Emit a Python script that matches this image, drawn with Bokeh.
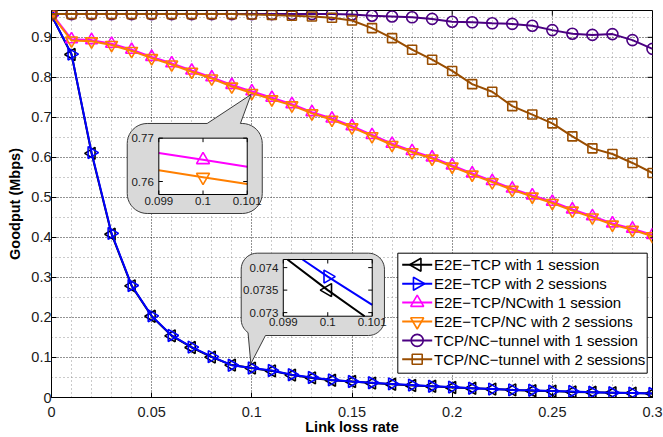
import math
from bokeh.plotting import figure
from bokeh.models import Range1d, FixedTicker
from bokeh.core.properties import value
from bokeh.embed import file_html
from bokeh.resources import INLINE

# ---------------- data ----------------
loss_rate = [0.00, 0.01, 0.02, 0.03, 0.04, 0.05, 0.06, 0.07, 0.08, 0.09,
             0.10, 0.11, 0.12, 0.13, 0.14, 0.15, 0.16, 0.17, 0.18, 0.19,
             0.20, 0.21, 0.22, 0.23, 0.24, 0.25, 0.26, 0.27, 0.28, 0.29, 0.30]

e2e_tcp_1 = [0.955, 0.857, 0.610, 0.408, 0.279, 0.203, 0.154, 0.125, 0.101, 0.081,
             0.0735, 0.0665, 0.056, 0.049, 0.043, 0.040, 0.036, 0.033, 0.030, 0.028,
             0.025, 0.023, 0.021, 0.019, 0.017, 0.016, 0.014, 0.013, 0.012, 0.011, 0.010]

e2e_tcp_2 = [0.955, 0.858, 0.612, 0.410, 0.280, 0.204, 0.155, 0.126, 0.102, 0.0805,
             0.0738, 0.0675, 0.057, 0.050, 0.044, 0.040, 0.037, 0.034, 0.031, 0.028,
             0.026, 0.023, 0.021, 0.019, 0.018, 0.016, 0.015, 0.013, 0.012, 0.011, 0.010]

e2e_nc_1 = [0.960, 0.895, 0.893, 0.884, 0.869, 0.851, 0.835, 0.817, 0.800, 0.781,
            0.765, 0.749, 0.733, 0.713, 0.697, 0.678, 0.656, 0.634, 0.616, 0.600,
            0.580, 0.560, 0.541, 0.522, 0.505, 0.489, 0.470, 0.453, 0.435, 0.422, 0.406]

e2e_nc_2 = [0.957, 0.892, 0.890, 0.881, 0.866, 0.848, 0.832, 0.814, 0.797, 0.777,
            0.761, 0.745, 0.730, 0.710, 0.694, 0.675, 0.653, 0.631, 0.613, 0.597,
            0.577, 0.557, 0.538, 0.519, 0.502, 0.486, 0.467, 0.450, 0.432, 0.419, 0.403]

tunnel_1 = [0.958, 0.958, 0.958, 0.958, 0.958, 0.958, 0.958, 0.958, 0.958, 0.958,
            0.958, 0.958, 0.958, 0.958, 0.958, 0.957, 0.954, 0.952, 0.950, 0.946,
            0.939, 0.9375, 0.935, 0.9335, 0.929, 0.918, 0.909, 0.906, 0.908, 0.893, 0.871]

tunnel_2 = [0.958, 0.958, 0.958, 0.958, 0.958, 0.958, 0.958, 0.958, 0.958, 0.958,
            0.957, 0.956, 0.954, 0.952, 0.949, 0.942, 0.923, 0.898, 0.869, 0.844,
            0.816, 0.783, 0.764, 0.728, 0.707, 0.685, 0.6525, 0.6225, 0.6085, 0.586, 0.561]

series_labels = ["E2E\u2212TCP with 1 session",
                 "E2E\u2212TCP with 2 sessions",
                 "E2E\u2212TCP/NCwith 1 session",
                 "E2E\u2212TCP/NC with 2 sessions",
                 "TCP/NC\u2212tunnel with 1 session",
                 "TCP/NC\u2212tunnel with 2 sessions"]

x_ticks = [0, 0.05, 0.1, 0.15, 0.2, 0.25, 0.3]
x_tick_labels = ["0", "0.05", "0.1", "0.15", "0.2", "0.25", "0.3"]
y_ticks = [0, 0.1, 0.2, 0.3, 0.4, 0.5, 0.6, 0.7, 0.8, 0.9]
y_tick_labels = ["0", "0.1", "0.2", "0.3", "0.4", "0.5", "0.6", "0.7", "0.8", "0.9"]
x_minor = [0.01, 0.02, 0.03, 0.04, 0.06, 0.07, 0.08, 0.09, 0.11, 0.12, 0.13, 0.14,
           0.16, 0.17, 0.18, 0.19, 0.21, 0.22, 0.23, 0.24, 0.26, 0.27, 0.28, 0.29]
y_minor = [0.05, 0.15, 0.25, 0.35, 0.45, 0.55, 0.65, 0.75, 0.85, 0.95]

inset1_x_ticks = [0.099, 0.1, 0.101]
inset1_x_labels = ["0.099", "0.1", "0.101"]
inset1_y_ticks = [0.76, 0.77]
inset1_y_labels = ["0.76", "0.77"]
inset2_x_ticks = [0.099, 0.1, 0.101]
inset2_x_labels = ["0.099", "0.1", "0.101"]
inset2_y_ticks = [0.073, 0.0735, 0.074]
inset2_y_labels = ["0.073", "0.0735", "0.074"]

# ---------------- styling ----------------
FONT = "Liberation Sans"
X0, X1 = 0.0, 0.3
Y0, Y1 = 0.0, 0.967
FW, FH = 601, 387
SX = FW / (X1 - X0)
SY = FH / (Y1 - Y0)


def fx(px):  # pixels from the frame's left edge -> data x
    return X0 + px / SX


def fy(py):  # pixels from the frame's bottom edge -> data y
    return Y0 + py / SY


colors = ["#000000", "#0000ff", "#ff00ff", "#ff7f00", "#4b0082", "#994d00"]
markers = ["triangle", "triangle", "triangle", "inverted_triangle", "circle", "square"]
angles = [math.pi / 2, -math.pi / 2, 0, 0, 0, 0]
sizes = [12, 12, 12, 12, 11, 9]
values = [e2e_tcp_1, e2e_tcp_2, e2e_nc_1, e2e_nc_2, tunnel_1, tunnel_2]

p = figure(frame_width=FW, frame_height=FH,
           x_range=Range1d(X0, X1), y_range=Range1d(Y0, Y1),
           output_backend="svg", toolbar_location=None,
           min_border_left=51, min_border_right=11, min_border_top=10, min_border_bottom=39,
           background_fill_color="white", border_fill_color="white")
p.outline_line_color = "black"
p.outline_line_alpha = 1.0
p.outline_line_width = 1

p.xaxis.ticker = FixedTicker(ticks=x_ticks, minor_ticks=x_minor)
p.yaxis.ticker = FixedTicker(ticks=y_ticks, minor_ticks=y_minor)
p.xaxis.major_label_overrides = dict(zip(x_ticks, x_tick_labels))
p.yaxis.major_label_overrides = dict(zip(y_ticks, y_tick_labels))
for ax in (p.xaxis[0], p.yaxis[0]):
    ax.major_tick_in = 5
    ax.major_tick_out = 0
    ax.minor_tick_in = 0
    ax.minor_tick_out = 0
    ax.axis_line_color = "black"
    ax.major_tick_line_color = "black"
    ax.major_label_text_font = FONT
    ax.major_label_text_font_size = "14.5px"
    ax.major_label_text_color = "#1a1a1a"
    ax.axis_label_text_font = FONT
    ax.axis_label_text_font_size = "14.5px"
    ax.axis_label_text_font_style = "bold"
    ax.axis_label_text_color = "black"
p.xaxis.axis_label = "Link loss rate"
p.yaxis.axis_label = "Goodput (Mbps)"
p.xaxis.major_label_standoff = 9
p.xaxis.axis_label_standoff = -1
p.yaxis.major_label_standoff = 0
p.yaxis.axis_label_standoff = 5

p.grid.grid_line_color = "black"
p.grid.grid_line_dash = "1 2"
p.grid.grid_line_alpha = 0.85
p.grid.minor_grid_line_color = "#8c8c8c"
p.grid.minor_grid_line_dash = "1 3"
p.grid.minor_grid_line_alpha = 0.9

# ticks on top and right frame edges (from the tick lists)
p.segment(x0=x_ticks, y0=[Y1] * len(x_ticks), x1=x_ticks, y1=[Y1 - 5 / SY] * len(x_ticks),
          line_color="black", line_width=1)
p.segment(x0=[X1] * len(y_ticks), y0=y_ticks, x1=[X1 - 5 / SX] * len(y_ticks), y1=y_ticks,
          line_color="black", line_width=1)

for ys, c, m, a, s in zip(values, colors, markers, angles, sizes):
    p.line(loss_rate, ys, line_color=c, line_width=2)
    p.scatter(loss_rate, ys, marker=m, angle=a, size=s, line_color=c,
              line_width=1.6, fill_color=None)


# ---------------- callout bubbles ----------------
def bubble(x0, x1, y0, y1, r, side, base_a, base_b, tip):
    rx, ry = r / SX, r / SY
    xs, ys = [], []

    def arc(cx, cy, a0, a1, n=10):
        for k in range(n + 1):
            t = math.radians(a0 + (a1 - a0) * k / n)
            xs.append(cx + rx * math.cos(t))
            ys.append(cy + ry * math.sin(t))

    arc(x0 + rx, y1 - ry, 180, 90)
    if side == "top":
        xs.extend([base_a, tip[0], base_b]); ys.extend([y1, tip[1], y1])
    arc(x1 - rx, y1 - ry, 90, 0)
    arc(x1 - rx, y0 + ry, 0, -90)
    if side == "bottom":
        xs.extend([base_b, tip[0]]); ys.extend([y0, tip[1]])
        arc(x0 + rx, y0 + ry, -125, -180)
    else:
        arc(x0 + rx, y0 + ry, -90, -180)
    return xs, ys


i10 = loss_rate.index(0.10)
b1x, b1y = bubble(0.0378, 0.1052, 0.4598, 0.6847, 20, "top", 0.0777, 0.0943,
                  (loss_rate[i10] - 0.0004, e2e_nc_2[i10] - 0.004))
b2x, b2y = bubble(0.0947, 0.1662, 0.1549, 0.3606, 16, "bottom", 0.0960, 0.1068,
                  (loss_rate[i10] - 0.0005, e2e_tcp_1[i10] + 0.011))
for bx, by in ((b1x, b1y), (b2x, b2y)):
    p.patch(bx, by, fill_color="#d9d9d9", line_color="#3a3a3a", line_width=1)


def clip_polyline(xs, ys, xmin, xmax, ymin, ymax):
    ox, oy = [], []
    for i in range(len(xs) - 1):
        xa, ya, xb, yb = xs[i], ys[i], xs[i + 1], ys[i + 1]
        dx, dy = xb - xa, yb - ya
        t0, t1 = 0.0, 1.0
        ok = True
        for pp, qq in ((-dx, xa - xmin), (dx, xmax - xa), (-dy, ya - ymin), (dy, ymax - ya)):
            if pp == 0:
                if qq < 0:
                    ok = False
                    break
            else:
                t = qq / pp
                if pp < 0:
                    if t > t1:
                        ok = False
                        break
                    t0 = max(t0, t)
                else:
                    if t < t0:
                        ok = False
                        break
                    t1 = min(t1, t)
        if ok and t0 < t1:
            ax_, ay_ = xa + t0 * dx, ya + t0 * dy
            bx_, by_ = xa + t1 * dx, ya + t1 * dy
            if ox and abs(ox[-1] - ax_) < 1e-12 and abs(oy[-1] - ay_) < 1e-12:
                ox.append(bx_); oy.append(by_)
            else:
                if ox:
                    ox.append(float("nan")); oy.append(float("nan"))
                ox += [ax_, bx_]; oy += [ay_, by_]
    return ox, oy


def inset(xsrc, ysrc, xtgt, ytgt, idxs, xt, xl, yt, yl):
    sub = p.subplot(x_source=Range1d(*xsrc), y_source=Range1d(*ysrc),
                    x_target=Range1d(*xtgt), y_target=Range1d(*ytgt))
    w_px = (xtgt[1] - xtgt[0]) * SX
    h_px = (ytgt[1] - ytgt[0]) * SY
    ux = (xsrc[1] - xsrc[0]) / w_px
    uy = (ysrc[1] - ysrc[0]) / h_px
    sub.quad(left=[xsrc[0]], right=[xsrc[1]], bottom=[ysrc[0]], top=[ysrc[1]],
             fill_color="white", line_color=None)
    for k in idxs:
        cx, cy = clip_polyline(loss_rate, values[k], xsrc[0], xsrc[1], ysrc[0], ysrc[1])
        sub.line(cx, cy, line_color=colors[k], line_width=2)
        px = [x for x, y in zip(loss_rate, values[k]) if xsrc[0] <= x <= xsrc[1] and ysrc[0] <= y <= ysrc[1]]
        py = [y for x, y in zip(loss_rate, values[k]) if xsrc[0] <= x <= xsrc[1] and ysrc[0] <= y <= ysrc[1]]
        sub.scatter(px, py, marker=markers[k], angle=angles[k], size=sizes[k] + 1,
                    line_color=colors[k], line_width=1.6, fill_color=None)
    n = len(xt)
    sub.segment(x0=xt, y0=[ysrc[0]] * n, x1=xt, y1=[ysrc[0] + 4 * uy] * n, line_color="black")
    sub.segment(x0=xt, y0=[ysrc[1]] * n, x1=xt, y1=[ysrc[1] - 4 * uy] * n, line_color="black")
    m = len(yt)
    sub.segment(x0=[xsrc[0]] * m, y0=yt, x1=[xsrc[0] + 4 * ux] * m, y1=yt, line_color="black")
    sub.segment(x0=[xsrc[1]] * m, y0=yt, x1=[xsrc[1] - 4 * ux] * m, y1=yt, line_color="black")
    sub.quad(left=[xsrc[0]], right=[xsrc[1]], bottom=[ysrc[0]], top=[ysrc[1]],
             fill_color=None, line_color="black", line_width=1)
    sub.text(x=xt, y=[ysrc[0]] * n, text=xl, text_align="center", text_baseline="top",
             y_offset=2, text_font=value(FONT), text_font_size="11.5px", text_color="#1a1a1a")
    sub.text(x=[xsrc[0]] * m, y=yt, text=yl, text_align="right", text_baseline="middle",
             x_offset=-5, text_font=value(FONT), text_font_size="11.5px", text_color="#1a1a1a")


inset((0.099, 0.101), (0.757, 0.770), (0.05357, 0.0977), (0.5072, 0.6480), [2, 3],
      inset1_x_ticks, inset1_x_labels, inset1_y_ticks, inset1_y_labels)
inset((0.099, 0.101), (0.07292, 0.07418), (0.1157, 0.1601), (0.2031, 0.3448), [0, 1],
      inset2_x_ticks, inset2_x_labels, inset2_y_ticks, inset2_y_labels)

# ---------------- legend (drawn as glyphs so the markers keep their rotation) ----------------
LG_L, LG_R, LG_B, LG_T = 346.3, 595.7, 24.3, 144.3   # box, px from frame left / bottom
ROW0, ROW_STEP = 11.6, 18.9
p.quad(left=[fx(LG_L)], right=[fx(LG_R)], bottom=[fy(LG_B)], top=[fy(LG_T)],
       fill_color="white", line_color="black", line_width=1)
nrow = len(series_labels)
row_y = [fy(LG_T - ROW0 - ROW_STEP * i) for i in range(nrow)]
p.segment(x0=[fx(LG_L + 4.4)] * nrow, y0=row_y, x1=[fx(LG_L + 34.4)] * nrow, y1=row_y,
          line_color=colors, line_width=2)
for i in range(nrow):
    p.scatter([fx(LG_L + 19.4)], [row_y[i]], marker=markers[i], angle=angles[i],
              size=sizes[i] + 1, line_color=colors[i], line_width=1.6, fill_color=None)
p.text(x=[fx(LG_L + 36.2)] * nrow, y=row_y, text=series_labels, text_align="left",
       text_baseline="middle", text_font=value(FONT), text_font_size="15px", text_color="black")

open("out.html", "w").write(file_html(p, INLINE))
